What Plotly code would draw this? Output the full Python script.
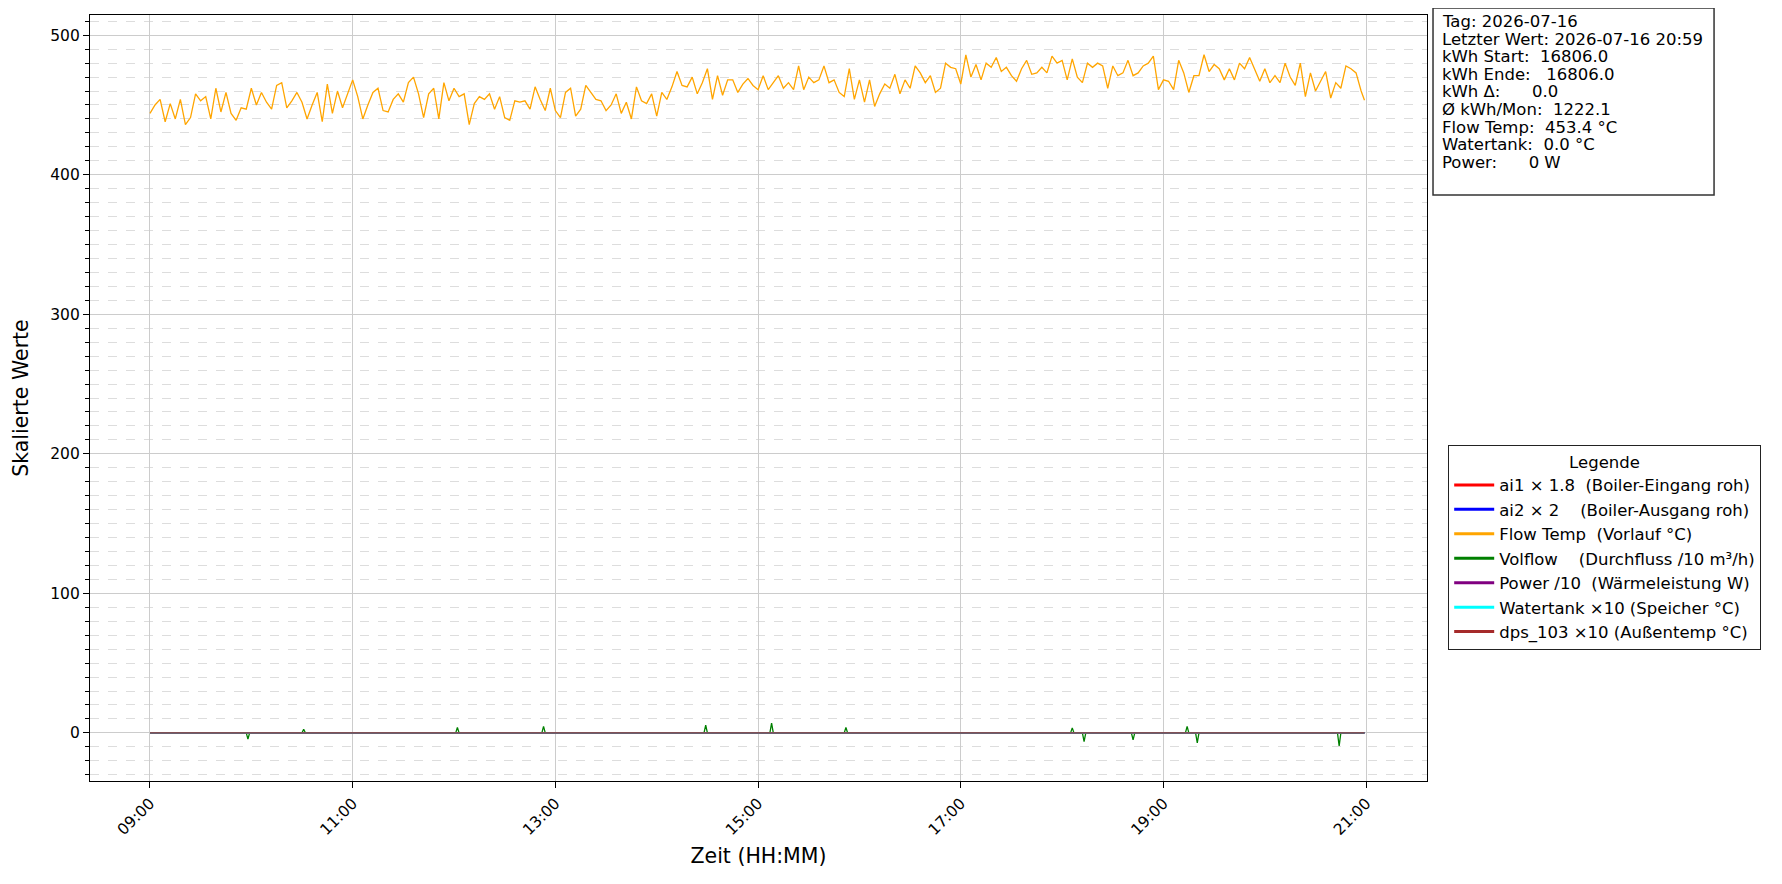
import pandas as pd
import plotly.graph_objects as go

# Flow Temp (Vorlauf), read every 3 minutes from 09:00, last value at 20:59
flow_temp = [
    444, 450, 454, 438, 451, 440, 454, 436, 441, 458,
    453, 456, 440, 462, 445, 459, 444, 439, 448, 447,
    462, 450, 459, 452, 447, 464, 466, 448, 453, 459,
    452, 440, 450, 459, 438, 465, 444, 460, 448, 458,
    468, 456, 440, 450, 459, 462, 446, 445, 454, 458,
    452, 466, 470, 458, 441, 458, 462, 440, 466, 453,
    462, 456, 458, 436, 451, 456, 454, 458, 447, 456,
    441, 439, 453, 452, 453, 447, 463, 454, 446, 462,
    446, 441, 459, 462, 442, 447, 464, 459, 454, 453,
    446, 450, 458, 444, 452, 440, 463, 453, 451, 458,
    442, 459, 454, 463, 474, 464, 463, 470, 458, 466,
    476, 454, 471, 457, 468, 468, 459, 465, 469, 464,
    461, 471, 461, 466, 471, 462, 466, 461, 478, 461,
    470, 466, 468, 478, 466, 468, 459, 456, 476, 454,
    468, 452, 468, 449, 458, 465, 462, 472, 458, 468,
    462, 478, 473, 466, 471, 459, 462, 480, 477, 476,
    465, 486, 470, 479, 468, 480, 477, 484, 474, 477,
    471, 467, 476, 482, 472, 473, 477, 473, 485, 480,
    482, 468, 483, 470, 466, 480, 477, 480, 478, 462,
    478, 471, 473, 482, 471, 473, 478, 480, 485, 461,
    468, 467, 461, 482, 473, 459, 471, 471, 486, 474,
    479, 476, 468, 476, 468, 480, 476, 484, 476, 467,
    476, 466, 471, 466, 480, 470, 464, 480, 456, 473,
    460, 467, 474, 455, 466, 462, 478, 476, 473, 460,
    453.4,
]
times = list(pd.date_range("2026-07-16 09:00", "2026-07-16 20:57", freq="3min"))
times.append(pd.Timestamp("2026-07-16 20:59"))

# Volflow (/10) - flat at zero apart from a few short spikes
volflow_times = [
    "09:00", "09:57", "09:58", "09:59", "10:30", "10:31", "10:32",
    "12:01", "12:02", "12:03", "12:52", "12:53", "12:54",
    "14:28", "14:29", "14:30", "15:07", "15:08", "15:09",
    "15:51", "15:52", "15:53", "18:05", "18:06", "18:07",
    "18:12", "18:13", "18:14", "18:41", "18:42", "18:43",
    "19:13", "19:14", "19:15", "19:19", "19:20", "19:21",
    "20:43", "20:44", "20:45", "20:59",
]
volflow_vals = [
    0, 0, -4.5, 0, 0, 2.6, 0,
    0, 3.8, 0, 0, 4.6, 0,
    0, 5.5, 0, 0, 7.0, 0,
    0, 3.8, 0, 0, 3.6, 0,
    0, -6.2, 0, 0, -5.0, 0,
    0, 4.6, 0, 0, -7.2, 0,
    0, -9.4, 0, 0,
]
volflow_x = [pd.Timestamp("2026-07-16 " + t) for t in volflow_times]

# the remaining channels read zero all day
ai1 = [0] * len(times)
ai2 = [0] * len(times)
power = [0] * len(times)
watertank = [0] * len(times)
dps_103 = [0] * len(times)

names = [
    "ai1 × 1.8\u00a0\u00a0(Boiler-Eingang roh)",
    "ai2 × 2\u00a0\u00a0\u00a0\u00a0(Boiler-Ausgang roh)",
    "Flow Temp\u00a0\u00a0(Vorlauf °C)",
    "Volflow\u00a0\u00a0\u00a0\u00a0(Durchfluss /10 m³/h)",
    "Power /10\u00a0\u00a0(Wärmeleistung W)",
    "Watertank ×10 (Speicher °C)",
    "dps_103 ×10 (Außentemp °C)",
]
colors = ["#ff0000", "#0000ff", "#ffa500", "#008000", "#800080", "#00ffff", "#a52a2a"]

info_lines = [
    "Tag: 2026-07-16",
    "Letzter Wert: 2026-07-16 20:59",
    "kWh Start:  16806.0",
    "kWh Ende:   16806.0",
    "kWh Δ:      0.0",
    "Ø kWh/Mon:  1222.1",
    "Flow Temp:  453.4 °C",
    "Watertank:  0.0 °C",
    "Power:      0 W",
]

FONT = "DejaVu Sans"

fig = go.Figure()

series = [
    (times, ai1), (times, ai2), (times, flow_temp), (volflow_x, volflow_vals),
    (times, power), (times, watertank), (times, dps_103),
]
for (xs, ys), c in zip(series, colors):
    fig.add_trace(go.Scatter(x=xs, y=ys, mode="lines", line=dict(color=c, width=1.3),
                             showlegend=False, hoverinfo="skip"))

# legend entries with thicker lines
for n, c in zip(names, colors):
    fig.add_trace(go.Scatter(x=[None], y=[None], mode="lines", name=n,
                             line=dict(color=c, width=3)))

# info box: frame as a shape, one annotation per line for tight line spacing
plot_h = 766
fig.add_shape(type="rect", xref="paper", yref="paper",
              x0=1.0045, x1=1.2147, y0=0.765, y1=1.009,
              line=dict(color="#333333", width=1.5), fillcolor="white")
for i, line in enumerate(info_lines):
    fig.add_annotation(
        xref="paper", yref="paper", x=1.0105, y=1 - (6.5 + 17.6 * i) / plot_h,
        xanchor="left", yanchor="middle", showarrow=False, borderpad=0,
        text=line.replace(" ", "\u00a0"),
        font=dict(family=FONT, size=16.5, color="black"),
    )

# page body has an 8px margin, so margins are shifted by that amount
fig.update_layout(
    width=1782, height=884,
    paper_bgcolor="white", plot_bgcolor="white",
    margin=dict(l=82, r=363, t=7, b=111),
    font=dict(family=FONT, size=15.5, color="black"),
    legend=dict(
        x=1.0157, y=0.4386, xanchor="left", yanchor="top",
        title=dict(text="Legende", side="top center", font=dict(size=16.5)),
        bordercolor="#222222", borderwidth=1.2, bgcolor="white",
        font=dict(size=16.5), traceorder="normal", itemwidth=40,
    ),
    xaxis=dict(
        type="date",
        range=["2026-07-16 08:24:30", "2026-07-16 21:36"],
        tick0="2026-07-16 09:00", dtick=7200000, tickformat="%H:%M",
        tickangle=-45, ticks="outside", ticklen=6, tickcolor="black",
        showline=True, linecolor="black", linewidth=1.3, mirror=True,
        showgrid=True, gridcolor="#cccccc", gridwidth=1.2, zeroline=False,
        title=dict(text="Zeit (HH:MM)", font=dict(size=20.5), standoff=10),
    ),
    yaxis=dict(
        range=[-34.5, 514.5], dtick=100, tick0=0,
        ticks="outside", ticklen=6, tickcolor="black",
        showline=True, linecolor="black", linewidth=1.3, mirror=True,
        showgrid=True, gridcolor="#cccccc", gridwidth=1.2, zeroline=False,
        minor=dict(dtick=10, ticks="outside", ticklen=3.5, tickcolor="black",
                   showgrid=True, gridcolor="#dddddd", gridwidth=0.7, griddash="dash"),
        title=dict(text="Skalierte Werte", font=dict(size=20.5), standoff=15),
    ),
)

fig.write_html("out.html")
